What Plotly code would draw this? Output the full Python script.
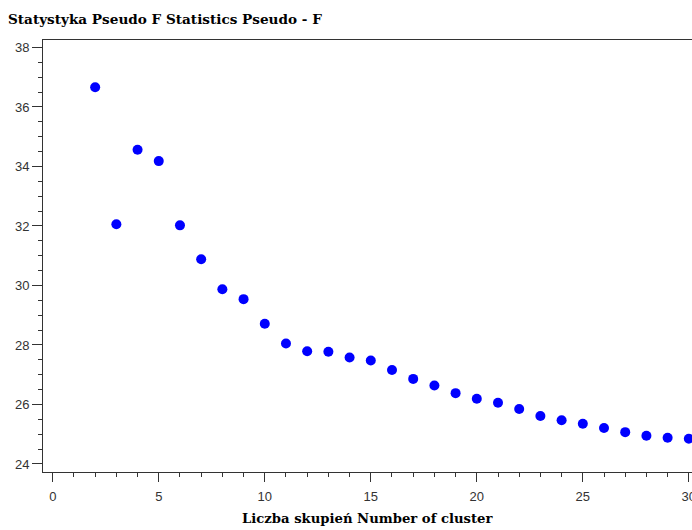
import plotly.graph_objects as go

clusters = list(range(2, 31))
pseudo_f = [36.66, 32.06, 34.56, 34.18, 32.02, 30.88, 29.87, 29.54, 28.71,
            28.05, 27.79, 27.77, 27.58, 27.48, 27.16, 26.86, 26.64, 26.38,
            26.19, 26.06, 25.85, 25.61, 25.47, 25.35, 25.21, 25.07, 24.95,
            24.88, 24.85]
x_ticks = [0, 5, 10, 15, 20, 25, 30]
y_ticks = [24, 26, 28, 30, 32, 34, 36, 38]

title_text = "Statystyka Pseudo F Statistics Pseudo - F"
x_title = "Liczba skupień Number of cluster"

W, H = 692, 530

fig = go.Figure(go.Scatter(
    x=clusters, y=pseudo_f, mode="markers",
    marker=dict(color="#0000FF", size=10, line=dict(width=0)),
    hoverinfo="x+y", cliponaxis=False,
))

axis_font = dict(family="Liberation Sans, Arial, sans-serif", size=13, color="#333333")
fig.update_layout(
    width=W, height=H,
    margin=dict(l=43, r=0, t=40, b=58, autoexpand=False),
    paper_bgcolor="white", plot_bgcolor="white",
    showlegend=False,
    title=dict(text=f"<b>{title_text}</b>", x=8/W, xref="container", xanchor="left",
               y=1-19/H, yref="container", yanchor="middle", automargin=False,
               font=dict(family="DejaVu Serif, Liberation Serif, serif", size=13.6, color="#000000")),
    annotations=[dict(text=f"<b>{x_title}</b>", xref="paper", yref="paper",
                      x=0.5, y=-46/432, xanchor="center", yanchor="middle", showarrow=False,
                      font=dict(family="DejaVu Serif, Liberation Serif, serif", size=13.2, color="#000000"))],
)
fig.update_xaxes(
    range=[-0.46, 30.15], tickvals=x_ticks, ticks="outside", ticklen=9, tickwidth=1,
    tickcolor="#333333", showgrid=False, zeroline=False, showline=True, linecolor="#333333",
    linewidth=1, mirror=True, tickfont=axis_font, automargin=False, ticklabelstandoff=3,
    ticklabeloverflow="allow",
    minor=dict(dtick=1, tick0=0, ticks="outside", ticklen=4, tickcolor="#333333", showgrid=False),
)
fig.update_yaxes(
    range=[23.73, 38.25], tickvals=y_ticks, ticks="outside", ticklen=10, tickwidth=1,
    tickcolor="#333333", showgrid=False, zeroline=False, showline=True, linecolor="#333333",
    linewidth=1, mirror=False, tickfont=axis_font, automargin=False, ticklabeloverflow="allow",
    minor=dict(dtick=0.5, tick0=24, ticks="outside", ticklen=4, tickcolor="#333333", showgrid=False),
)

fig.write_html(
    "out.html",
    config={"displayModeBar": False},
    post_script="document.body.style.margin='0';document.body.style.overflow='hidden';",
)
